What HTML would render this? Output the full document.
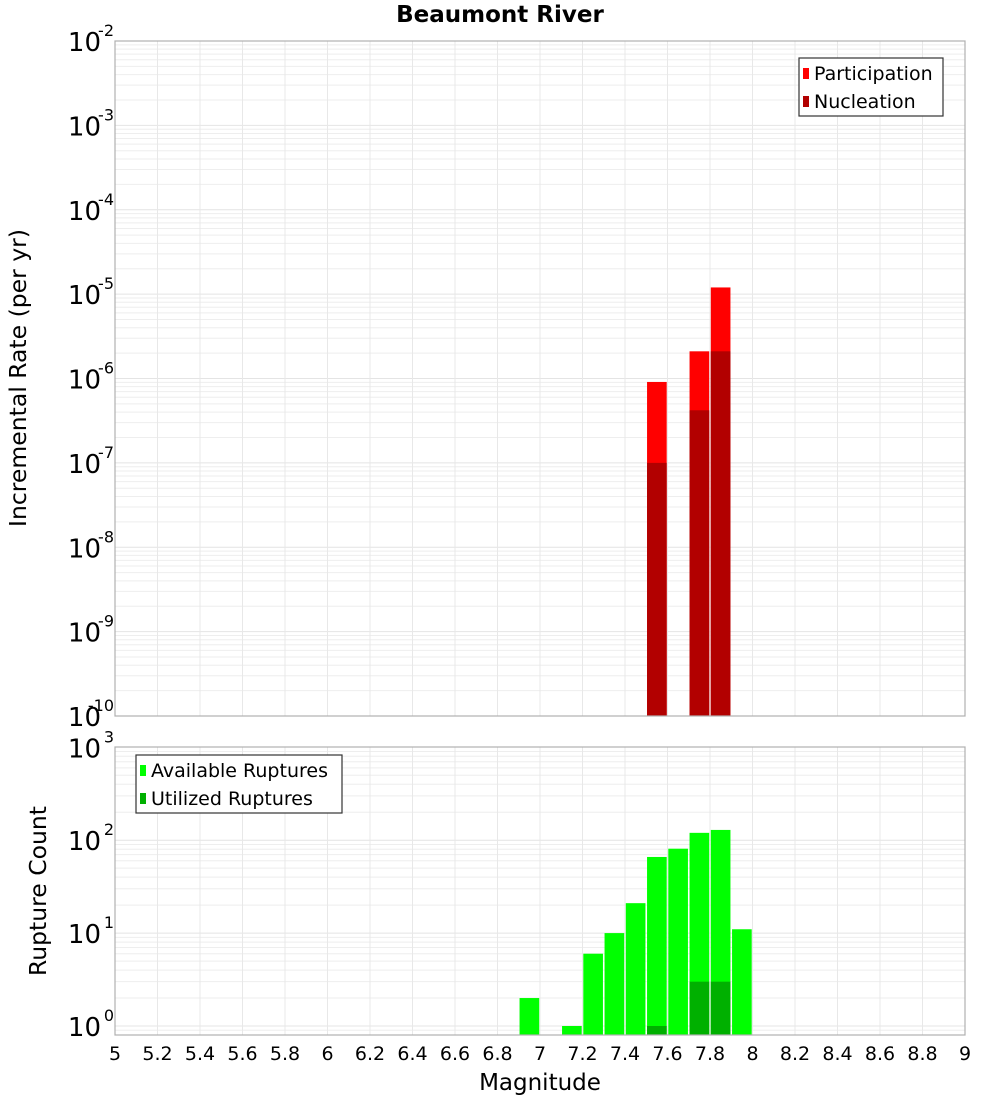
<!DOCTYPE html>
<html><head><meta charset="utf-8"><style>
html,body{margin:0;padding:0;background:#fff;}
svg text{font-family:"DejaVu Sans","Liberation Sans",sans-serif;}
</style></head><body>
<svg id="chart" width="1000" height="1100" xmlns="http://www.w3.org/2000/svg">
<text x="500" y="22" text-anchor="middle" font-size="23" font-weight="bold">Beaumont River</text>
<text transform="translate(26,378) rotate(-90)" text-anchor="middle" font-size="23.5">Incremental Rate (per yr)</text>
<text transform="translate(46,891) rotate(-90)" text-anchor="middle" font-size="23.5">Rupture Count</text>
<text x="540" y="1090" text-anchor="middle" font-size="23">Magnitude</text>
</svg>
<script>
// Top chart data
const rateBins = [7.55, 7.75, 7.85];
const participation = [9.1e-7, 2.1e-6, 1.2e-5];
const nucleation = [1.0e-7, 4.2e-7, 2.1e-6];
// Bottom chart data
const countBins = [6.95, 7.15, 7.25, 7.35, 7.45, 7.55, 7.65, 7.75, 7.85, 7.95];
const available = [2, 1, 6, 10, 21, 66, 81, 120, 129, 11];
const utilBins = [7.55, 7.75, 7.85];
const utilized = [1, 3, 3];
const xTicks = [5,5.2,5.4,5.6,5.8,6,6.2,6.4,6.6,6.8,7,7.2,7.4,7.6,7.8,8,8.2,8.4,8.6,8.8,9];
const topExps = [-2,-3,-4,-5,-6,-7,-8,-9,-10];
const botExps = [3,2,1,0];

const NS = "http://www.w3.org/2000/svg";
const svg = document.getElementById('chart');
const X0 = 115, X1 = 965;
const xs = m => X0 + (m - 5) / 4 * (X1 - X0);
const topY = v => 41 + (-2 - Math.log10(v)) * (675 / 8);
const botPx = 92.9;
const botY = v => 1026 - Math.log10(v) * botPx;
function el(tag, attrs, parent) {
  const e = document.createElementNS(NS, tag);
  for (const k in attrs) e.setAttribute(k, attrs[k]);
  (parent || svg).appendChild(e);
  return e;
}
function panel(name, top, bottom, yfn, lo, hi) {
  const g = el('g', {});
  
  
  for (let d = lo; d < hi; d++) {
    for (let k = 1; k <= 9; k++) {
      const y = yfn(k * Math.pow(10, d));
      if (y < top || y > bottom) continue;
      const l = el('line', {x1: X0, x2: X1, y1: y, y2: y, stroke: k === 1 ? '#e4e4e4' : '#eeeeee', 'stroke-width': 1}, g);
      
      
    }
  }
  xTicks.forEach(t => {
    const l = el('line', {x1: xs(t), x2: xs(t), y1: top, y2: bottom, stroke: '#e8e8e8', 'stroke-width': 1}, g);
    
    
  });
  return g;
}
function border(name, top, bottom) {
  const r = el('rect', {x: X0, y: top, width: X1 - X0, height: bottom - top, fill: 'none', stroke: '#b0b0b0', 'stroke-width': 1.2});
  
  
}
function bar(x, yTop, yBot, color, name) {
  const w = (X1 - X0) / 40;
  const r = el('rect', {x: xs(x) - w / 2 + 0.8, y: yTop, width: w - 1.6, height: yBot - yTop, fill: color});
  
  
}
function expLabel(y, e, name) {
  const g = el('g', {});
  
  
  const t = el('text', {x: 101, y: y + 10, 'text-anchor': 'end', 'font-size': 26}, g);
  t.textContent = '10';
  const s = el('text', {x: 114, y: y - 5, 'text-anchor': 'end', 'font-size': 16}, g);
  s.textContent = String(e);
}

panel('top-plot-grid', 41, 716, topY, -10, -2);
rateBins.forEach((m, i) => {
  bar(m, topY(participation[i]), 716, '#ff0000', 'participation-bar');
  bar(m, topY(nucleation[i]), 716, '#b20000', 'nucleation-bar');
});
border('top-plot-frame', 41, 716);
topExps.forEach(e => expLabel(topY(Math.pow(10, e)), e, 'top-y-tick-label'));

panel('bottom-plot-grid', 747, 1035, botY, -1, 3);
const botBase = 1035;
countBins.forEach((m, i) => bar(m, botY(available[i]), botBase, '#00ff00', 'available-bar'));
utilBins.forEach((m, i) => bar(m, botY(utilized[i]), botBase, '#00b000', 'utilized-bar'));
border('bottom-plot-frame', 747, 1035);
botExps.forEach(e => expLabel(botY(Math.pow(10, e)), e, 'bottom-y-tick-label'));

xTicks.forEach(t => {
  const tx = el('text', {x: xs(t), y: 1060, 'text-anchor': 'middle', 'font-size': 19});
  
  
  tx.textContent = String(t);
});

function legend(name, x, y, w, items) {
  const g = el('g', {});
  
  
  el('rect', {x: x, y: y, width: w, height: 58, fill: '#fff', stroke: '#333', 'stroke-width': 1.2}, g);
  items.forEach((it, i) => {
    const eg = el('g', {}, g);
    
    
    el('rect', {x: x + 4, y: y + 10 + i * 28, width: 6, height: 11, fill: it[1]}, eg);
    const t = el('text', {x: x + 15, y: y + 22 + i * 28, 'font-size': 19}, eg);
    t.textContent = it[0];
  });
}
legend('top-legend', 799, 58, 144, [['Participation', '#ff0000'], ['Nucleation', '#b20000']]);
legend('bottom-legend', 136, 755, 206, [['Available Ruptures', '#00ff00'], ['Utilized Ruptures', '#00b000']]);
</script>
</body></html>
